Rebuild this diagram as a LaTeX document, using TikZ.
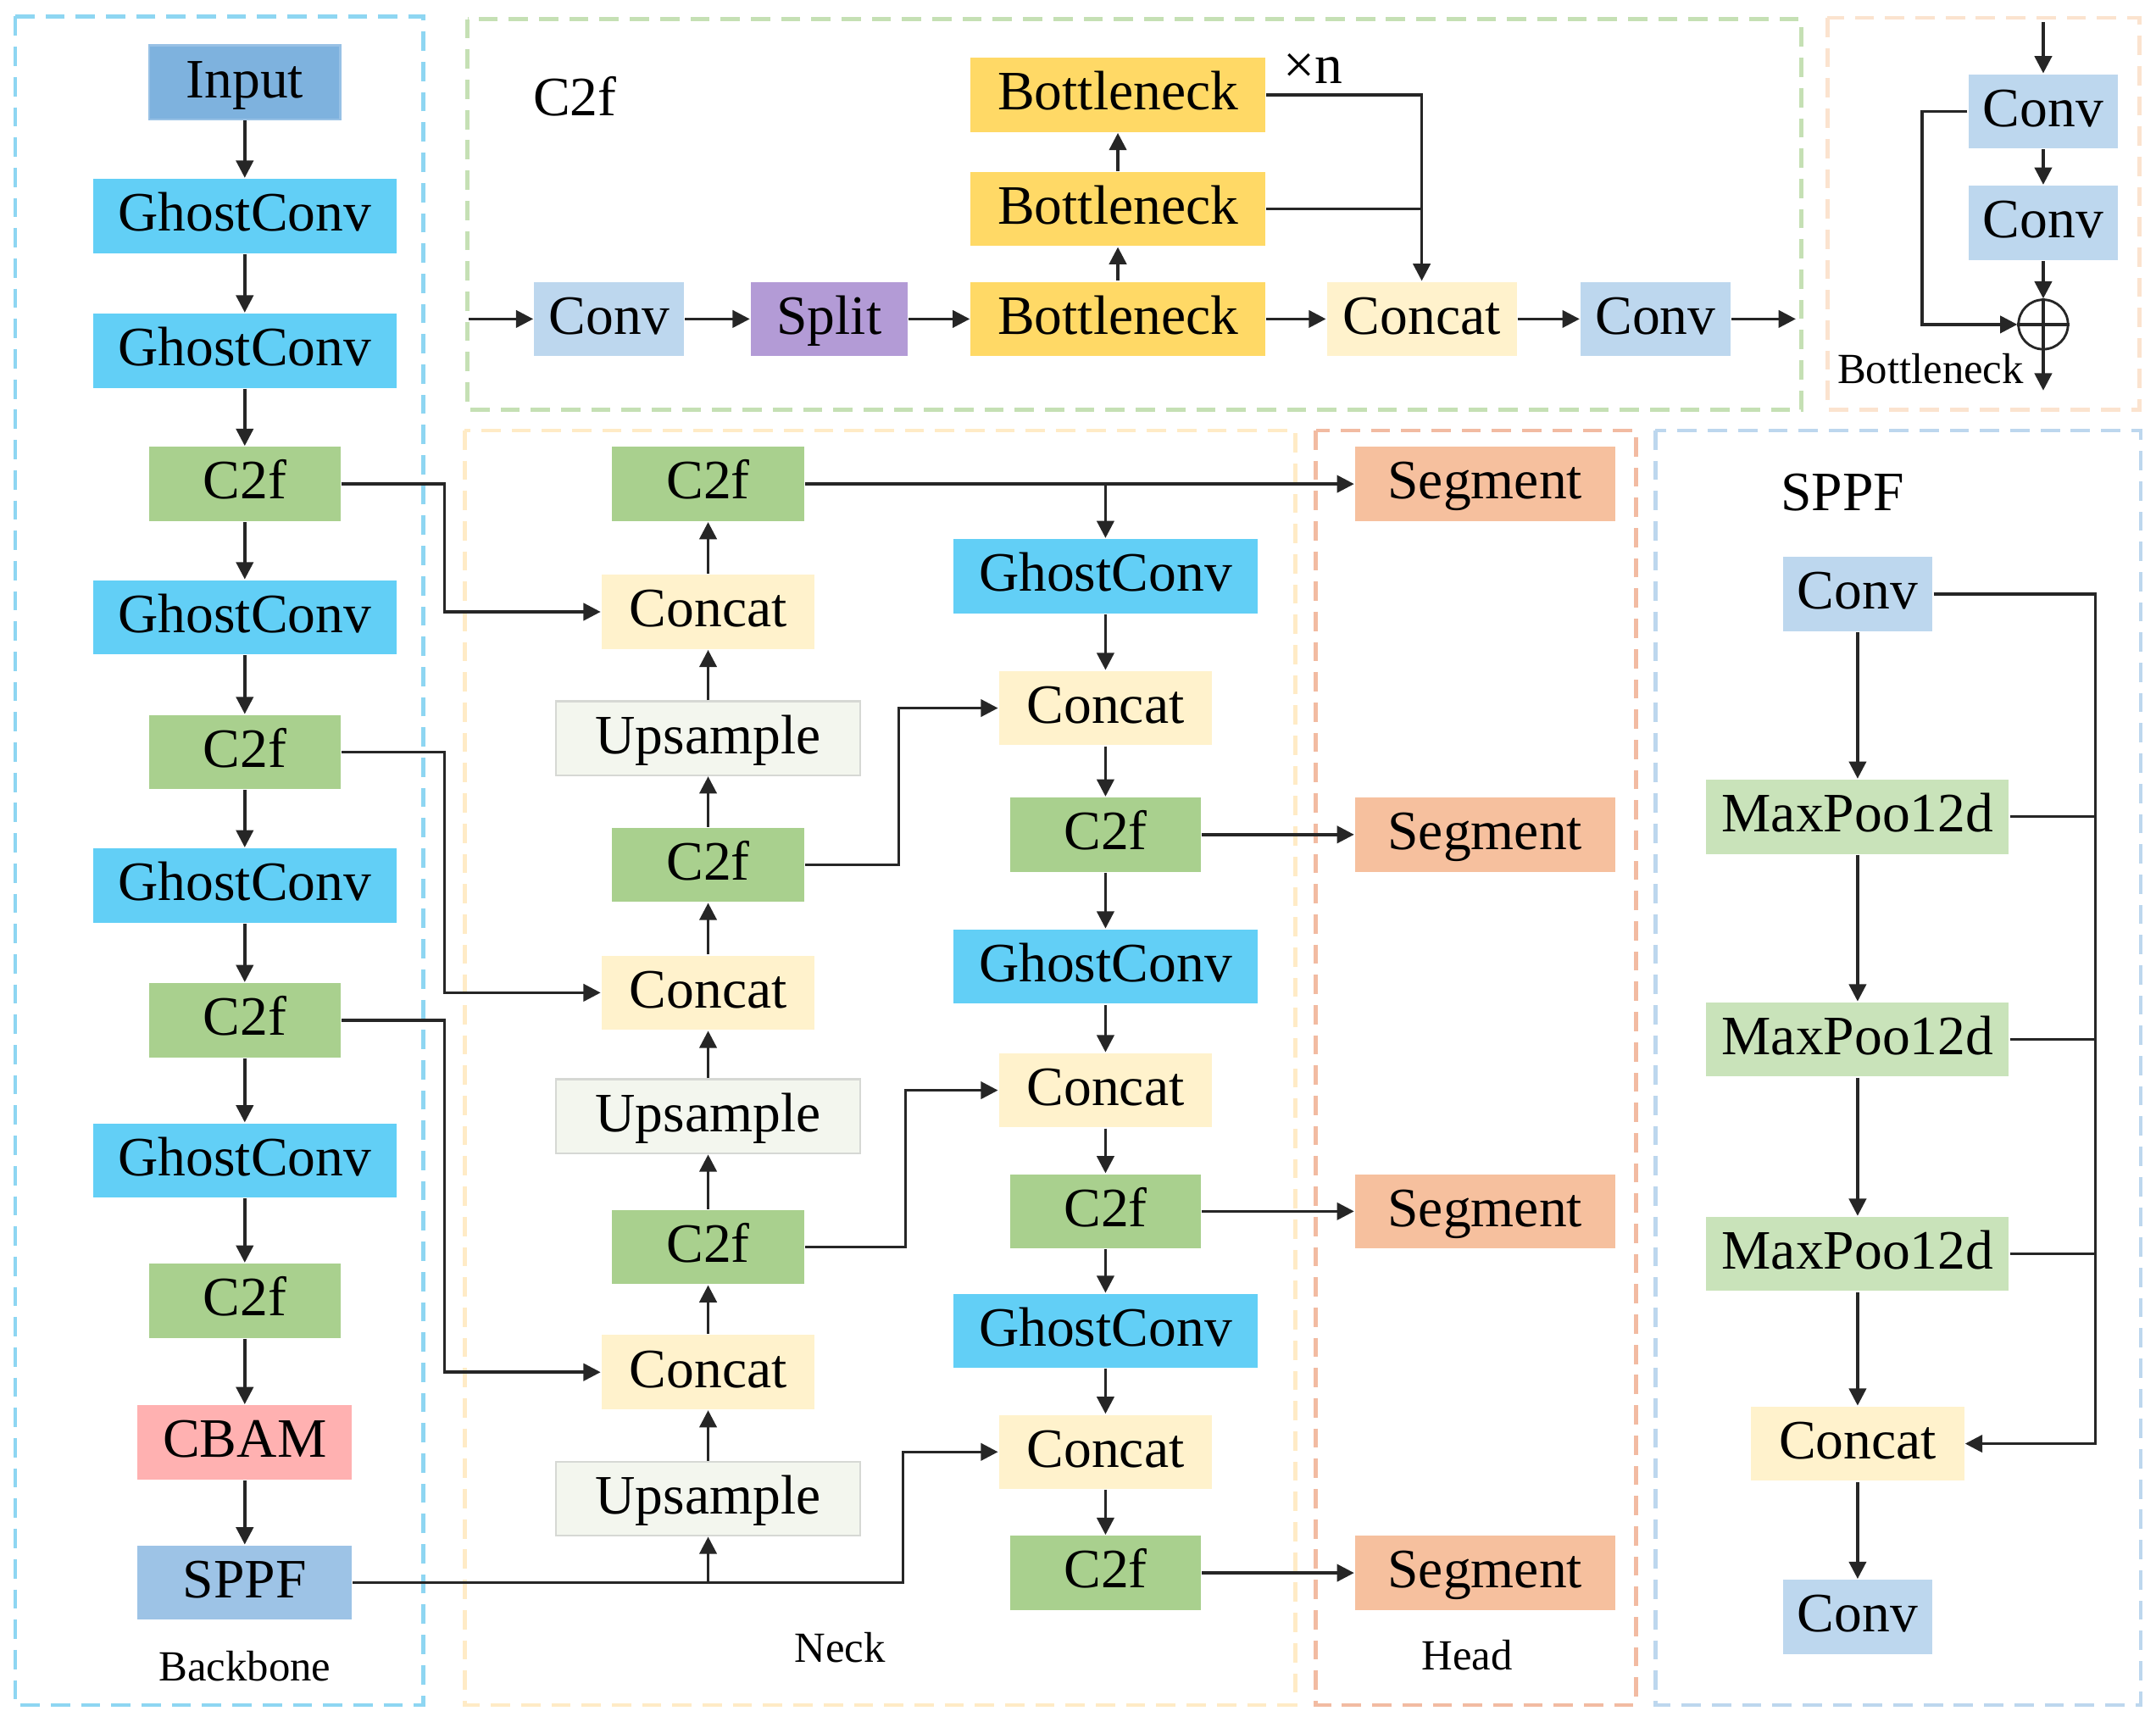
\documentclass[tikz,border=0pt]{standalone}
\usepackage{fontspec}
\setmainfont{Liberation Serif}
\usepackage{tikz}
\usetikzlibrary{arrows.meta}
\usepackage{xcolor}

\definecolor{inpc}{HTML}{7EB2DE}
\definecolor{ghostc}{HTML}{62CFF6}
\definecolor{c2fc}{HTML}{A9D08E}
\definecolor{cbamc}{HTML}{FFB1B1}
\definecolor{sppfc}{HTML}{9DC3E6}
\definecolor{convc}{HTML}{BDD7EE}
\definecolor{splitc}{HTML}{B39BD6}
\definecolor{bnc}{HTML}{FFD966}
\definecolor{catc}{HTML}{FFF2CC}
\definecolor{upsc}{HTML}{F3F6EE}
\definecolor{upsd}{HTML}{D6D8D4}
\definecolor{segc}{HTML}{F6C09E}
\definecolor{poolc}{HTML}{C9E3BA}
\definecolor{fbb}{HTML}{8ED6F2}
\definecolor{fc2f}{HTML}{C5E0B4}
\definecolor{fbn}{HTML}{FBE3CF}
\definecolor{fneck}{HTML}{FFEBC6}
\definecolor{fhead}{HTML}{F2BBA2}
\definecolor{fsppf}{HTML}{BDD7EE}

\newcommand\bigtxt{\fontsize{11.5}{13}\selectfont}
\newcommand\smalltxt{\fontsize{8.9}{10}\selectfont}

\begin{document}
\begin{tikzpicture}[x=0.1mm,y=-0.1mm,
  blk/.style={rectangle, inner sep=0pt, minimum height=5.4mm, text height=2.7mm, text depth=0.5mm, font=\bigtxt},
  ghost/.style={blk, fill=ghostc, minimum width=22.1mm},
  c2f/.style={blk, fill=c2fc, minimum width=13.9mm},
  cat/.style={blk, fill=catc, minimum width=15.5mm},
  ups/.style={blk, fill=upsc, draw=upsd, line width=0.4pt, minimum width=22.1mm},
  seg/.style={blk, fill=segc, minimum width=18.9mm},
  conv/.style={blk, fill=convc, minimum width=10.9mm},
  bneck/.style={blk, fill=bnc, minimum width=21.4mm},
  pool/.style={blk, fill=poolc, minimum width=22mm},
  link/.style={draw=black!85, line width=0.6pt},
  arr/.style={link, -{Triangle[length=1.25mm,width=1.25mm]}},
  frame/.style={line width=0.8pt, dash pattern=on 1.4mm off 0.8mm}]
  \useasboundingbox (0,0) rectangle (1568,1252);

  %%%%%%% FRAMES
  \draw[frame, fbb] (11,12) rectangle (308,1240);
  \draw[frame, fc2f] (340,14) rectangle (1310,298);
  \draw[frame, fbn] (1329,13) rectangle (1556,298);
  \draw[frame, fneck] (338,313) rectangle (942,1240);
  \draw[frame, fhead] (957,313) rectangle (1190,1240);
  \draw[frame, fsppf] (1204,313) rectangle (1557,1240);

  %%%%%%% BACKBONE
  \node[blk, fill=inpc, draw=inpc!80!white, minimum width=13.9mm] (in) at (178,60) {Input};
  \node[ghost] (g1) at (178,157) {GhostConv};
  \node[ghost] (g2) at (178,255) {GhostConv};
  \node[c2f] (b1) at (178,352) {C2f};
  \node[ghost] (g3) at (178,449) {GhostConv};
  \node[c2f] (b2) at (178,547) {C2f};
  \node[ghost] (g4) at (178,644) {GhostConv};
  \node[c2f] (b3) at (178,742) {C2f};
  \node[ghost] (g5) at (178,844) {GhostConv};
  \node[c2f] (b4) at (178,946) {C2f};
  \node[blk, fill=cbamc, minimum width=15.6mm] (cbam) at (178,1049) {CBAM};
  \node[blk, fill=sppfc, minimum width=15.6mm] (sppf) at (178,1151) {SPPF};
  \node[font=\smalltxt] (lbb) at (178,1212) {Backbone};
  \draw[arr] (in) -- (g1);
  \draw[arr] (g1) -- (g2);
  \draw[arr] (g2) -- (b1);
  \draw[arr] (b1) -- (g3);
  \draw[arr] (g3) -- (b2);
  \draw[arr] (b2) -- (g4);
  \draw[arr] (g4) -- (b3);
  \draw[arr] (b3) -- (g5);
  \draw[arr] (g5) -- (b4);
  \draw[arr] (b4) -- (cbam);
  \draw[arr] (cbam) -- (sppf);

  %%%%%%% NECK
  \node[c2f, minimum width=14mm] (nc1) at (515,352) {C2f};
  \node[cat] (ncat1) at (515,445) {Concat};
  \node[ups] (nup1) at (515,537) {Upsample};
  \node[c2f, minimum width=14mm] (nc2) at (515,629) {C2f};
  \node[cat] (ncat2) at (515,722) {Concat};
  \node[ups] (nup2) at (515,812) {Upsample};
  \node[c2f, minimum width=14mm] (nc3) at (515,907) {C2f};
  \node[cat] (ncat3) at (515,998) {Concat};
  \node[ups] (nup3) at (515,1090) {Upsample};

  \node[ghost] (ng1) at (804,419) {GhostConv};
  \node[cat] (ncat4) at (804,515) {Concat};
  \node[c2f] (nc4) at (804,607) {C2f};
  \node[ghost] (ng2) at (804,703) {GhostConv};
  \node[cat] (ncat5) at (804,793) {Concat};
  \node[c2f] (nc5) at (804,881) {C2f};
  \node[ghost] (ng3) at (804,968) {GhostConv};
  \node[cat] (ncat6) at (804,1056) {Concat};
  \node[c2f] (nc6) at (804,1144) {C2f};
  \node[font=\smalltxt] (lneck) at (611,1198) {Neck};

  \draw[arr] (nup3) -- (ncat3);
  \draw[arr] (ncat3) -- (nc3);
  \draw[arr] (nc3) -- (nup2);
  \draw[arr] (nup2) -- (ncat2);
  \draw[arr] (ncat2) -- (nc2);
  \draw[arr] (nc2) -- (nup1);
  \draw[arr] (nup1) -- (ncat1);
  \draw[arr] (ncat1) -- (nc1);

  \draw[arr] (ng1) -- (ncat4);
  \draw[arr] (ncat4) -- (nc4);
  \draw[arr] (nc4) -- (ng2);
  \draw[arr] (ng2) -- (ncat5);
  \draw[arr] (ncat5) -- (nc5);
  \draw[arr] (nc5) -- (ng3);
  \draw[arr] (ng3) -- (ncat6);
  \draw[arr] (ncat6) -- (nc6);

  \draw[arr] (b1.east) -- ++(75,0) |- (ncat1.west);
  \draw[arr] (b2.east) -- ++(75,0) |- (ncat2.west);
  \draw[arr] (b3.east) -- ++(75,0) |- (ncat3.west);
  \draw[arr] (sppf.east) -- ++(400,0) |- (ncat6.west);
  \draw[arr] (nup3.south |- sppf.east) -- (nup3.south);
  \draw[arr] (nc2.east) -- ++(68,0) |- (ncat4.west);
  \draw[arr] (nc3.east) -- ++(73,0) |- (ncat5.west);

  %%%%%%% HEAD
  \node[seg] (seg1) at (1080,352) {Segment};
  \node[seg] (seg2) at (1080,607) {Segment};
  \node[seg] (seg3) at (1080,881) {Segment};
  \node[seg] (seg4) at (1080,1144) {Segment};
  \node[font=\smalltxt] (lhead) at (1067,1204) {Head};
  \draw[arr] (nc1.east) -- (seg1.west);
  \draw[arr] (ng1.north |- nc1.east) -- (ng1.north);
  \draw[arr] (nc4.east) -- (seg2.west);
  \draw[arr] (nc5.east) -- (seg3.west);
  \draw[arr] (nc6.east) -- (seg4.west);

  %%%%%%% C2F MODULE
  \node[font=\bigtxt] (lc2f) at (418,70) {C2f};
  \node[font=\bigtxt] (lxn) at (955,50) {×n};
  \coordinate (min) at (341,232);
  \coordinate (mout) at (1306,232);
  \node[conv] (mconv1) at (443,232) {Conv};
  \node[blk, fill=splitc, minimum width=11.4mm] (msplit) at (603,232) {Split};
  \node[bneck] (mb1) at (813,232) {Bottleneck};
  \node[bneck] (mb2) at (813,152) {Bottleneck};
  \node[bneck] (mb3) at (813,69) {Bottleneck};
  \node[blk, fill=catc, minimum width=13.8mm] (mcat) at (1034,232) {Concat};
  \node[conv] (mconv2) at (1204,232) {Conv};
  \draw[arr] (min) -- (mconv1);
  \draw[arr] (mconv1) -- (msplit);
  \draw[arr] (msplit) -- (mb1);
  \draw[arr] (mb1) -- (mcat);
  \draw[arr] (mcat) -- (mconv2);
  \draw[arr] (mconv2) -- (mout);
  \draw[arr] (mb1) -- (mb2);
  \draw[arr] (mb2) -- (mb3);
  \draw[arr] (mb3.east) -| (mcat.north);
  \draw[link] (mb2.east) -- (mcat.north |- mb2.east);

  %%%%%%% BOTTLENECK MODULE
  \coordinate (bin) at (1486,16);
  \coordinate (bout) at (1486,284);
  \node[conv] (bconv1) at (1486,81) {Conv};
  \node[conv] (bconv2) at (1486,162) {Conv};
  \node[circle, draw=black!85, line width=0.5pt, minimum size=3.6mm, inner sep=0pt] (badd) at (1486,236) {};
  \draw[link] (badd.north) -- (badd.south) (badd.west) -- (badd.east);
  \node[font=\smalltxt] (lbn) at (1404,268) {Bottleneck};
  \draw[arr] (bin) -- (bconv1);
  \draw[arr] (bconv1) -- (bconv2);
  \draw[arr] (bconv2) -- (badd);
  \draw[arr] (badd) -- (bout);
  \draw[arr] (bconv1.west) -- ++(-33,0) |- (badd.west);

  %%%%%%% SPPF MODULE
  \node[font=\bigtxt] (lsppf) at (1340,358) {SPPF};
  \node[conv] (sconv1) at (1351,432) {Conv};
  \node[pool] (sp1) at (1351,594) {MaxPoo12d};
  \node[pool] (sp2) at (1351,756) {MaxPoo12d};
  \node[pool] (sp3) at (1351,912) {MaxPoo12d};
  \node[cat] (scat) at (1351,1050) {Concat};
  \node[conv] (sconv2) at (1351,1176) {Conv};
  \coordinate (bus) at (1524,1050);
  \draw[arr] (sconv1) -- (sp1);
  \draw[arr] (sp1) -- (sp2);
  \draw[arr] (sp2) -- (sp3);
  \draw[arr] (sp3) -- (scat);
  \draw[arr] (scat) -- (sconv2);
  \draw[arr] (sconv1.east) -| (bus) -- (scat.east);
  \draw[link] (sp1.east) -- (bus |- sp1.east);
  \draw[link] (sp2.east) -- (bus |- sp2.east);
  \draw[link] (sp3.east) -- (bus |- sp3.east);
\end{tikzpicture}
\end{document}
